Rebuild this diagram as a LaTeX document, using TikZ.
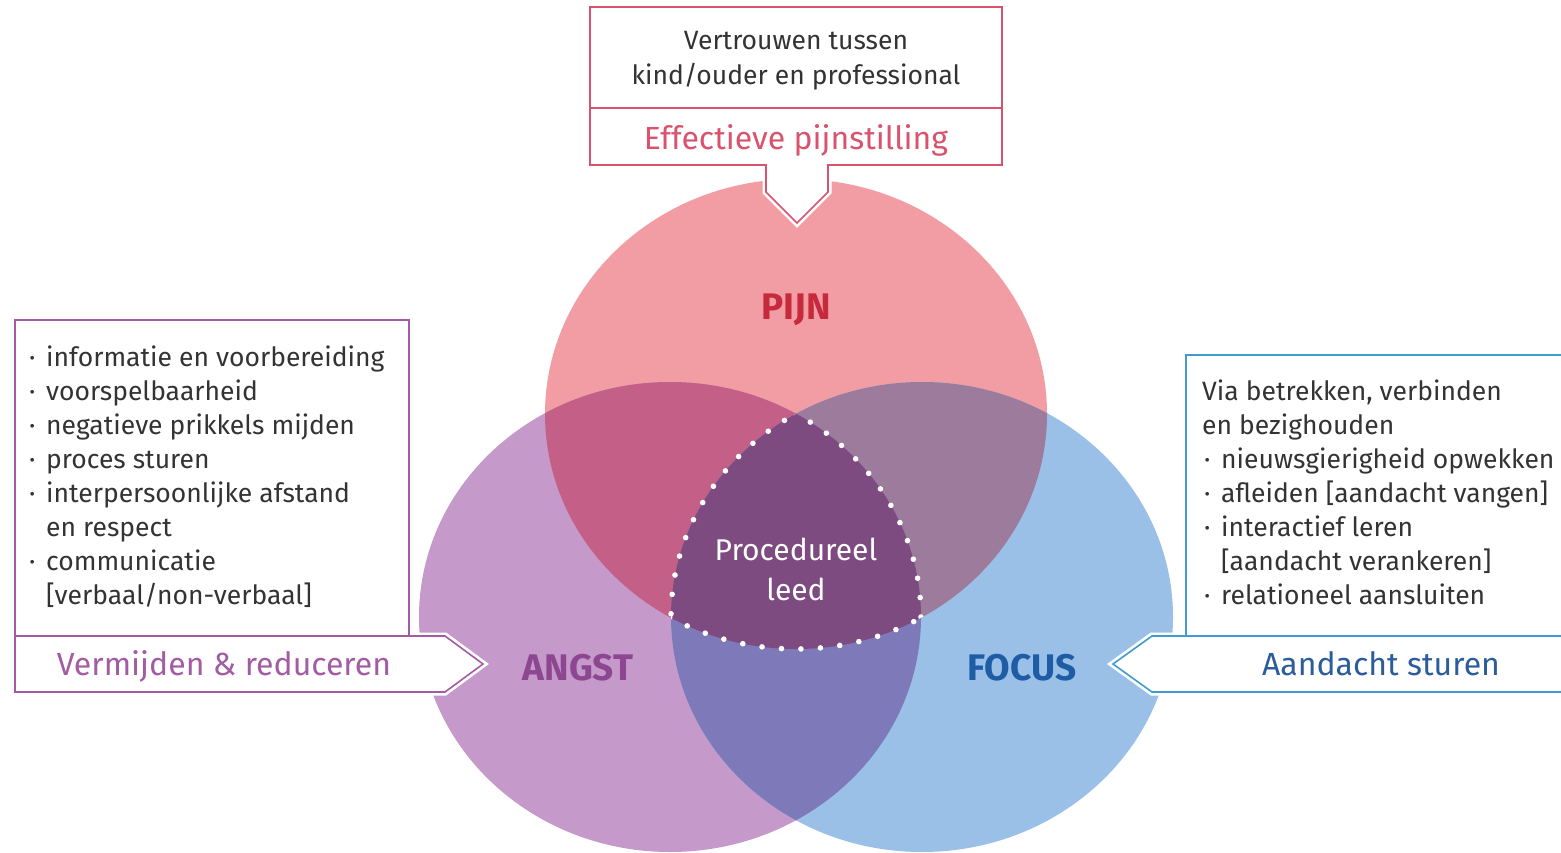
\documentclass[tikz,border=0pt]{standalone}
\usepackage{fontspec}
\setmainfont{Fira Sans}
\usetikzlibrary{positioning}

\definecolor{pijnkleur}{HTML}{F19DA3}
\definecolor{angstkleur}{HTML}{C599C9}
\definecolor{focuskleur}{HTML}{9BC0E7}
\definecolor{pijnangst}{HTML}{C45F87}
\definecolor{pijnfocus}{HTML}{9D7B9C}
\definecolor{angstfocus}{HTML}{7E79B9}
\definecolor{leedkleur}{HTML}{7E4B81}
\definecolor{pijntekst}{HTML}{C62A3C}
\definecolor{angsttekst}{HTML}{8C4790}
\definecolor{focustekst}{HTML}{1E5CA6}
\definecolor{roze}{HTML}{D9536F}
\definecolor{paars}{HTML}{A35BA4}
\definecolor{blauw}{HTML}{3E9CCF}
\definecolor{bandblauw}{HTML}{2B5C9B}
\definecolor{donker}{HTML}{333333}

\newcommand{\pijnvorm}{(796,414) ellipse [x radius=251pt, y radius=235pt]}
\newcommand{\angstvorm}{(670,617) ellipse [x radius=251pt, y radius=235pt]}
\newcommand{\focusvorm}{(922,617) ellipse [x radius=251pt, y radius=235pt]}
\newcommand{\bol}[1][17pt]{\makebox[#1][l]{·}}

\begin{document}
\begin{tikzpicture}[x=1pt, y=-1pt,
    tekst/.style={font=\fontsize{26.5}{34}\selectfont, text=donker, inner sep=0pt, align=left},
    bandtekst/.style={font=\fontsize{32}{34}\selectfont, inner sep=0pt, anchor=base},
    kop/.style={font=\fontsize{37}{40}\selectfont\bfseries, inner sep=0pt, anchor=base},
    halo/.style={draw=white, line width=7pt, fill=white},
    lijn/.style={line width=1.6pt, fill=white},
    stippel/.style={draw=white, line width=5.6pt, line cap=round, dash pattern=on 0pt off 19.5pt}]

  \useasboundingbox (0,0) rectangle (1561,853);
  \clip (0,0) rectangle (1561,853);
  \fill[white] (0,0) rectangle (1561,853);

  % drie cirkels en hun overlap
  \fill[pijnkleur] \pijnvorm;
  \fill[angstkleur] \angstvorm;
  \fill[focuskleur] \focusvorm;
  \begin{scope}
    \clip \pijnvorm;
    \fill[pijnangst] \angstvorm;
    \fill[pijnfocus] \focusvorm;
  \end{scope}
  \begin{scope}
    \clip \angstvorm;
    \fill[angstfocus] \focusvorm;
  \end{scope}
  \begin{scope}
    \clip \pijnvorm; \clip \angstvorm;
    \fill[leedkleur] \focusvorm;
  \end{scope}

  % stippellijn rond het midden
  \begin{scope}
    \clip \angstvorm; \clip \focusvorm;
    \draw[stippel] \pijnvorm;
  \end{scope}
  \begin{scope}
    \clip \pijnvorm; \clip \focusvorm;
    \draw[stippel] \angstvorm;
  \end{scope}
  \begin{scope}
    \clip \pijnvorm; \clip \angstvorm;
    \draw[stippel] \focusvorm;
  \end{scope}

  % kader boven
  \draw[halo] (590,7) -- (1002,7) -- (1002,165) -- (828,165) -- (828,192) -- (797,223) -- (766,192) -- (766,165) -- (590,165) -- cycle;
  \draw[lijn, draw=roze] (590,7) -- (1002,7) -- (1002,165) -- (828,165) -- (828,192) -- (797,223) -- (766,192) -- (766,165) -- (590,165) -- cycle;
  \draw[roze, line width=1.6pt] (590,108) -- (1002,108);

  % kader links
  \draw[halo] (15,320) -- (409,320) -- (409,636) -- (445,636) -- (483,664) -- (445,692) -- (15,692) -- cycle;
  \draw[lijn, draw=paars] (15,320) -- (409,320) -- (409,636) -- (445,636) -- (483,664) -- (445,692) -- (15,692) -- cycle;
  \draw[paars, line width=1.6pt] (15,636) -- (409,636);

  % kader rechts
  \draw[halo] (1575,355) -- (1186,355) -- (1186,636) -- (1152,636) -- (1113,664) -- (1152,692) -- (1575,692);
  \draw[lijn, draw=blauw] (1575,355) -- (1186,355) -- (1186,636) -- (1152,636) -- (1113,664) -- (1152,692) -- (1575,692);
  \draw[blauw, line width=1.6pt] (1186,636) -- (1575,636);

  % teksten
  \node[tekst, anchor=base] (vertrouwen) at (796,50) {Vertrouwen tussen};
  \node[tekst, anchor=base] (kindouder) at (796,85) {kind/ouder en professional};
  \node[bandtekst, text=roze] (pijnstilling) at (796,150) {Effectieve pijnstilling};

  \node[tekst, anchor=north west] (angstlijst) at (29,346) {%
    \bol informatie en voorbereiding\\
    \bol voorspelbaarheid\\
    \bol negatieve prikkels mijden\\
    \bol proces sturen\\
    \bol interpersoonlijke afstand\\
    \hspace*{17pt}en respect\\
    \bol communicatie\\
    \hspace*{17pt}[verbaal/non-verbaal]};
  \node[bandtekst, text=paars] (vermijden) at (224,675) {Vermijden \& reduceren};

  \node[tekst, anchor=north west] (focuslijst) at (1202,380) {%
    Via betrekken, verbinden\\
    en bezighouden\\
    \hspace*{2pt}\bol nieuwsgierigheid opwekken\\
    \hspace*{2pt}\bol afleiden [aandacht vangen]\\
    \hspace*{2pt}\bol interactief leren\\
    \hspace*{19pt}[aandacht verankeren]\\
    \hspace*{2pt}\bol relationeel aansluiten};
  \node[bandtekst, text=bandblauw] (aandacht) at (1381,675) {Aandacht sturen};

  \node[kop, text=pijntekst] (pijn) at (796,319) {PIJN};
  \node[kop, text=angsttekst] (angst) at (578,680) {ANGST};
  \node[kop, text=focustekst] (focus) at (1022,680) {FOCUS};
  \node[font=\fontsize{30}{40}\selectfont, text=white, align=center, inner sep=0pt] (leed) at (796,569) {Procedureel\\leed};

\end{tikzpicture}
\end{document}
